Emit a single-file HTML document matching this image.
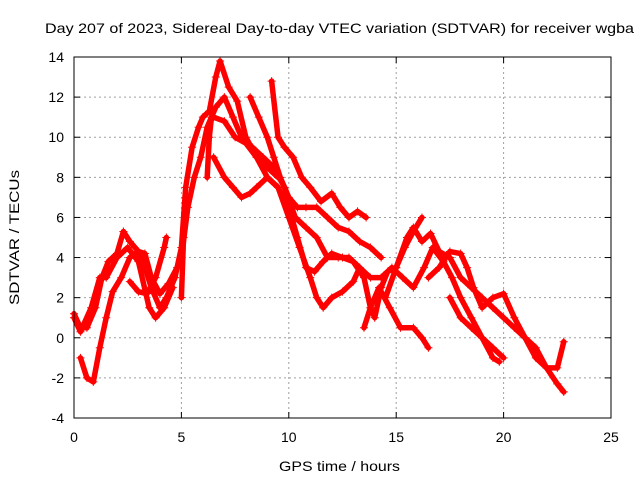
<!DOCTYPE html>
<html><head><meta charset="utf-8"><style>
body{margin:0;background:#fff}
svg text{font-family:"Liberation Sans",sans-serif;font-size:14px;fill:#000}
</style></head><body>
<svg id="chart" width="640" height="480">
<rect width="640" height="480" fill="#fff"/>
<text x="45" y="33" textLength="589" lengthAdjust="spacingAndGlyphs">Day 207 of 2023, Sidereal Day-to-day VTEC variation (SDTVAR) for receiver wgba</text>
<g id="grid"></g>
<g id="axes"></g>
<g id="series"></g>
<rect x="74" y="57" width="537" height="361" fill="none" stroke="#000"/>
<text x="279" y="471" textLength="121" lengthAdjust="spacingAndGlyphs">GPS time / hours</text>
<text transform="translate(19,305) rotate(-90)" textLength="135" lengthAdjust="spacingAndGlyphs">SDTVAR / TECUs</text>
</svg>
<script>
const xTicks=[0,5,10,15,20,25];
const yTicks=[-4,-2,0,2,4,6,8,10,12,14];
const track1=[[0,1.2],[0.3,0.5],[0.6,0.5],[1,1.5],[1.3,3],[1.6,3.8],[2,4.2],[2.3,5.3],[2.6,4.8],[3,4.3],[3.3,3.5],[3.6,2.5],[4,1.5],[4.3,2],[4.7,3],[5,4.5],[5.2,7.5],[5.5,9.5],[5.8,10.5],[6,11],[6.3,11.3],[6.6,13],[6.8,13.8],[7.2,12.5],[7.6,11.8],[8,10],[8.5,9],[9,8],[9.5,7.5],[10,6],[10.5,4.5],[11,3],[11.3,2],[11.6,1.5],[12,2],[12.5,2.3],[13,2.8],[13.3,3.5]];
const track2=[[0.3,-1],[0.6,-2],[0.9,-2.2],[1.2,-0.5],[1.5,1],[1.8,2.3],[2.2,3],[2.6,4],[3,4.3],[3.3,4.2],[3.6,3],[4,2.2],[4.4,2.7],[4.8,3.5],[5,4],[5.3,6.5],[5.6,8],[5.9,9],[6.2,10.5],[6.6,11.5],[7,12],[7.4,11],[7.8,10],[8.3,9.5],[8.8,9],[9.3,8.5],[9.8,7.5],[10.3,6],[10.8,5.5],[11.3,5],[11.8,4],[12.3,4],[12.8,4],[13.3,3.5],[13.8,3],[14.3,3],[14.8,3.5],[15.3,3],[15.8,2.5],[16.3,3.5],[16.7,4.5],[17.2,3.8],[17.6,3],[18,2],[18.5,1],[19,0],[19.5,-1],[19.8,-1.2]];
const track3=[[9.2,12.8],[9.5,10],[9.8,9.5],[10.2,9],[10.6,8],[11,7.5],[11.5,6.8],[12,7.2],[12.4,6.5],[12.8,6],[13.2,6.3],[13.6,6]];
const track4=[[8.2,12],[8.6,11],[9,10],[9.3,9],[9.6,8],[10,7],[10.4,6.5],[10.8,6.5],[11.3,6.5],[11.8,6],[12.3,5.5],[12.8,5.3],[13.3,4.8],[13.8,4.5],[14.3,4]];
const track5=[[6.5,9],[7,8],[7.4,7.5],[7.8,7],[8.2,7.2],[8.5,7.5],[9,8],[9.5,7.5],[10,6.5],[10.4,5],[10.8,3.5],[11.2,3.3],[11.6,3.8],[12,4.2],[12.5,4],[13,3.8],[13.5,3],[13.8,1.5],[14,1],[14.3,2.5],[14.6,3.3],[15,3.5],[15.4,4.5],[15.8,5.3],[16.2,6]];
const track6=[[13.5,0.5],[13.8,1.5],[14.2,2.5],[14.7,1.5],[15.2,0.5],[15.8,0.5],[16.2,0],[16.5,-0.5]];
const track7=[[14.5,2],[15,3.5],[15.5,5],[15.8,5.5],[16.2,4.8],[16.6,5.2],[17,4.3],[17.5,4],[18,3],[18.5,2.5],[19,2],[19.5,1.5],[20,1],[20.5,0.5],[21,0],[21.5,-0.5],[22,-1.5],[22.5,-2.3],[22.8,-2.7]];
const track8=[[16.5,3],[17,3.5],[17.5,4.3],[18,4.2],[18.3,3.5],[18.6,2.5],[19,1.5],[19.5,2],[20,2.2],[20.5,1],[21,0],[21.5,-1],[22,-1.5],[22.5,-1.5],[22.8,-0.2]];
const track9=[[17.5,2],[18,1],[18.5,0.5],[19,0],[19.5,-0.5],[20,-1]];
const track10=[[0,1],[0.3,0.3],[0.8,1.5],[1.2,3],[1.5,3],[2,4],[2.5,4.5],[3,3.8],[3.5,1.5],[3.8,1],[4.2,1.5],[4.6,2.5]];
const track11=[[2.6,2.8],[3,2.3],[3.4,2.2],[3.8,3],[4.2,4.5],[4.3,5]];
const track12=[[6.5,11],[7,10.8],[7.5,10],[8,9.7],[8.5,9],[9,8.5],[9.5,8]];
const track13=[[5,2],[5.1,5],[5.2,7]];
const track14=[[6.2,8],[6.3,10],[6.4,11]];
const tracks=[track1,track2,track3,track4,track5,track6,track7,track8,track9,track10,track11,track12,track13,track14];

const NS="http://www.w3.org/2000/svg";
const X=v=>74+v*537/25, Y=v=>57+(14-v)*361/18;
function mk(t,a,p){const e=document.createElementNS(NS,t);for(const k in a)e.setAttribute(k,a[k]);p.appendChild(e);return e;}
const grid=document.getElementById('grid'),axes=document.getElementById('axes'),ser=document.getElementById('series');
xTicks.forEach(t=>{
 if(t>0&&t<25){const l=mk('line',{x1:X(t),x2:X(t),y1:57,y2:418,stroke:'#a0a0a0','stroke-dasharray':'2,3'},grid);
 }
 mk('line',{x1:X(t),x2:X(t),y1:418,y2:412,stroke:'#000'},axes);
 mk('line',{x1:X(t),x2:X(t),y1:57,y2:63,stroke:'#000'},axes);
 const tx=mk('text',{x:X(t),y:442,'text-anchor':'middle'},axes);tx.textContent=t;
 
});
yTicks.forEach(t=>{
 if(t>-4&&t<14){const l=mk('line',{x1:74,x2:611,y1:Y(t),y2:Y(t),stroke:'#a0a0a0','stroke-dasharray':'2,3'},grid);
 }
 mk('line',{x1:74,x2:80,y1:Y(t),y2:Y(t),stroke:'#000'},axes);
 mk('line',{x1:605,x2:611,y1:Y(t),y2:Y(t),stroke:'#000'},axes);
 const tx=mk('text',{x:64,y:Y(t)+5,'text-anchor':'end'},axes);tx.textContent=t;
 
});
tracks.forEach((tr,i)=>{
 const g=mk('g',{},ser);
 
 
 mk('polyline',{points:tr.map(p=>X(p[0])+','+Y(p[1])).join(' '),fill:'none',stroke:'#f00','stroke-width':5.5,'stroke-linejoin':'round','stroke-linecap':'round'},g);
 tr.forEach(p=>{const x=X(p[0]),y=Y(p[1]);
  mk('path',{d:`M${x-4},${y}h8M${x},${y-4}v8`,stroke:'#f00','stroke-width':1},g);});
});
</script>
</body></html>
